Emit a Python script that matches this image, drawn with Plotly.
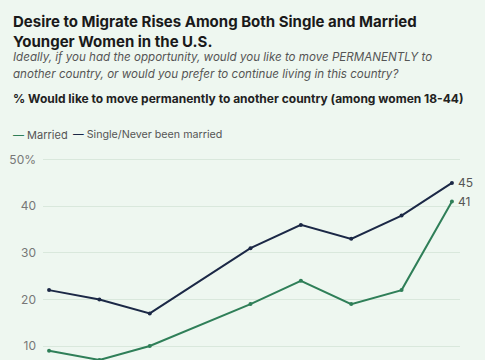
import plotly.graph_objects as go

# Data
years = [2008, 2010, 2012, 2016, 2018, 2020, 2022, 2024]
married = [9, 7, 10, 19, 24, 19, 22, 41]
single = [22, 20, 17, 31, 36, 33, 38, 45]
tick_vals = [10, 20, 30, 40, 50]
tick_text = ["10", "20", "30", "40", "50%"]

W, H = 485, 360
ML, MR, MT, MB = 43, 25, 155, 0
PW, PH = W - ML - MR, H - MT - MB

BG = "#eef7f0"
GREEN = "#2f7f58"
NAVY = "#1b2846"
FONT = "Inter, Roboto, 'Noto Sans', sans-serif"


def px(x):
    return (x - ML) / PW


def py(y):
    return (H - MB - y) / PH


fig = go.Figure()
fig.add_trace(go.Scatter(x=years, y=married, mode="lines+markers", name="Married",
                         line=dict(color=GREEN, width=2), marker=dict(size=4, color=GREEN),
                         cliponaxis=False))
fig.add_trace(go.Scatter(x=years, y=single, mode="lines+markers", name="Single/Never been married",
                         line=dict(color=NAVY, width=2), marker=dict(size=4, color=NAVY),
                         cliponaxis=False))

ann = []


def text(x, y, t, size, color, bold=False, italic=False):
    s = t
    if bold:
        s = "<b>" + s.replace("<br>", "</b><br><b>") + "</b>"
    if italic:
        s = "<i>" + s + "</i>"
    ann.append(dict(xref="paper", yref="paper", x=px(x), y=py(y), text=s, showarrow=False,
                    xanchor="left", yanchor="middle", align="left",
                    font=dict(family=FONT, size=size, color=color)))


text(11, 32, "Desire to Migrate Rises Among Both Single and Married<br>Younger Women in the U.S.",
     15, "#1a1a1a", bold=True)
text(11, 57, "Ideally, if you had the opportunity, would you like to move PERMANENTLY to", 11.6, "#555555", italic=True)
text(11, 74, "another country, or would you prefer to continue living in this country?", 11.6, "#555555", italic=True)
text(11, 98, "% Would like to move permanently to another country (among women 18-44)", 12, "#222222", bold=True)
text(11, 135, "<span style='color:%s'>—</span> Married" % GREEN, 11, "#555555")
text(71, 135, "<span style='color:%s'>—</span> Single/Never been married" % NAVY, 10.7, "#555555")

ann.append(dict(x=years[-1], y=single[-1], xref="x", yref="y", text=str(single[-1]), showarrow=False,
                xanchor="left", yanchor="middle", xshift=4, font=dict(family=FONT, size=12, color="#555555")))
ann.append(dict(x=years[-1], y=married[-1], xref="x", yref="y", text=str(married[-1]), showarrow=False,
                xanchor="left", yanchor="middle", xshift=4, font=dict(family=FONT, size=12, color="#555555")))

fig.update_layout(
    width=W, height=H, margin=dict(l=ML, r=MR, t=MT, b=MB, autoexpand=False),
    paper_bgcolor=BG, plot_bgcolor=BG, showlegend=False,
    annotations=ann,
    font=dict(family=FONT),
    xaxis=dict(range=[2007.76, 2024.32], visible=False, showgrid=False, zeroline=False),
    yaxis=dict(range=[7, 51], tickvals=tick_vals, ticktext=tick_text, showgrid=True,
               gridcolor="#d9e8dc", gridwidth=1, zeroline=False, showline=False, ticks="",
               ticklabelstandoff=6,
               tickfont=dict(family=FONT, size=12, color="#777777")),
)

fig.write_html("out.html", config={"displayModeBar": False},
               post_script="document.body.style.margin='0';document.body.style.background='%s';" % BG)
